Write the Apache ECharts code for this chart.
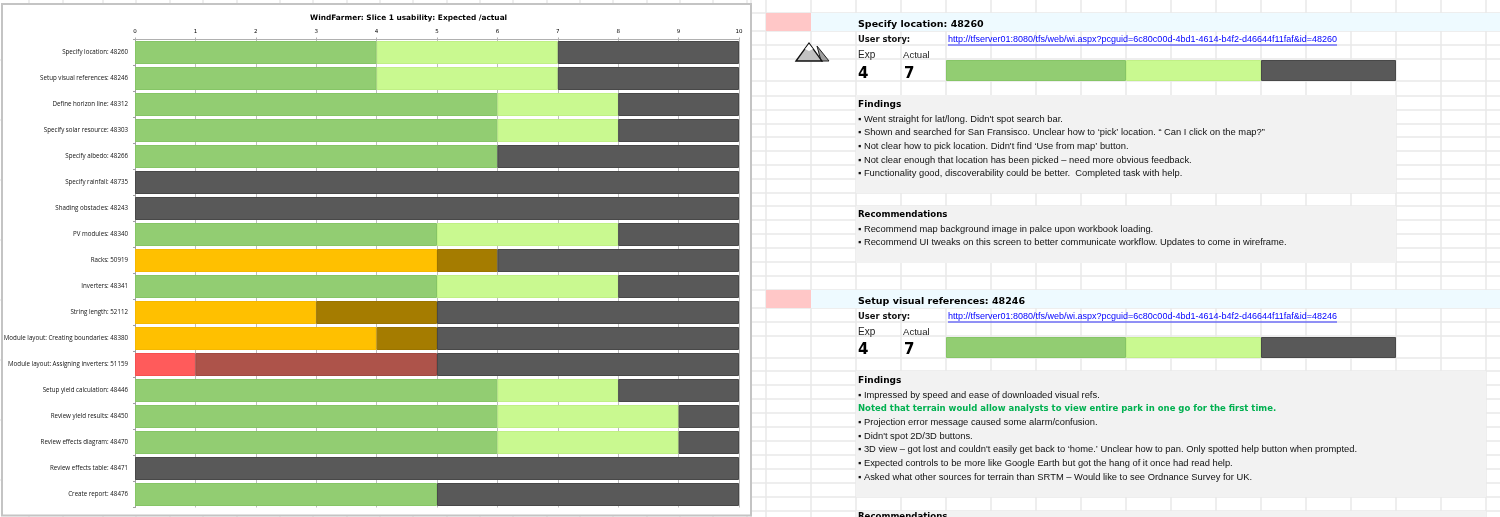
<!DOCTYPE html>
<html><head><meta charset="utf-8">
<style>html,body{margin:0;padding:0;background:#fff}#c{width:1500px;height:517px}</style>
<script src="https://cdn.jsdelivr.net/npm/echarts@6/dist/echarts.min.js"></script></head>
<body><div id="c"></div>
<script>
const categories=["Specify location: 48260","Setup visual references: 48246","Define horizon line: 48312","Specify solar resource: 48303","Specify albedo: 48266","Specify rainfall: 48735","Shading obstacles: 48243","PV modules: 48340","Racks: 50919","Inverters: 48341","String length: 52112","Module layout: Creating boundaries: 48380","Module layout: Assigning inverters: 51159","Setup yield calculation: 48446","Review yield results: 48450","Review effects diagram: 48470","Review effects table: 48471","Create report: 48476"];
const expected=[4,4,6,6,6,0,0,5,5,5,3,4,1,6,6,6,0,5];
const actual=[7,7,8,8,6,0,0,8,6,8,5,5,5,8,9,9,0,5];
const status=["g","g","g","g","g","n","n","g","o","g","o","o","r","g","g","g","n","g"];
const xTicks=[0,1,2,3,4,5,6,7,8,9,10];
const title="WindFarmer: Slice 1 usability: Expected /actual";
const findingsA=["▪ Went straight for lat/long. Didn't spot search bar.","▪ Shown and searched for San Fransisco. Unclear how to ‘pick’ location. “ Can I click on the map?”","▪ Not clear how to pick location. Didn't find ‘Use from map’ button.","▪ Not clear enough that location has been picked – need more obvious feedback.","▪ Functionality good, discoverability could be better.  Completed task with help."];
const recsA=["▪ Recommend map background image in palce upon workbook loading.","▪ Recommend UI tweaks on this screen to better communicate workflow. Updates to come in wireframe."];
const findingsB=["▪ Impressed by speed and ease of downloaded visual refs.","Noted that terrain would allow analysts to view entire park in one go for the first time.","▪ Projection error message caused some alarm/confusion.","▪ Didn't spot 2D/3D buttons.","▪ 3D view – got lost and couldn't easily get back to ‘home.’ Unclear how to pan. Only spotted help button when prompted.","▪ Expected controls to be more like Google Earth but got the hang of it once had read help.","▪ Asked what other sources for terrain than SRTM – Would like to see Ordnance Survey for UK."];
const linkBase="http://tfserver01:8080/tfs/web/wi.aspx?pcguid=6c80c00d-4bd1-4614-b4f2-d46644f11faf&id=";
const palette={g:["#92CD72","#C9F990"],o:["#FFC000","#A57C00"],r:["#FF5B5B","#AD534A"],n:["#595959","#595959"]};
const edge={g:["#86C566","#C0F085"],o:["#F5B800","#9A7400"],r:["#F55050","#A04A42"],n:["#404040","#404040"]};
const dark="#595959",darkEdge="#484848";

const cols=[766,811,856,901,946,991,1036,1081,1126,1171,1216,1261,1306,1351,1396,1441,1486];
const rows=[13,31,45,59,81,96,110,124,137,151,165,179,193,206,220,234,248,262,276,290,308,322,336,358,371,385,399,413,427,441,455,469,483,497,511];
const stripX=[29,63,103,136,170,203,237,280,313,347,380,413,447,480,513,547,580,613,647,680,713,747];
const G=[];
const rect=(x,y,w,h,fill,z=-5)=>G.push({type:'rect',z,silent:true,shape:{x,y,width:w,height:h},style:{fill}});
const line=(a,b,c,d,col='#E8E8E8',w=1.5,z=-6)=>G.push({type:'line',z,silent:true,shape:{x1:a,y1:b,x2:c,y2:d},style:{stroke:col,lineWidth:w}});
const txt=(x,y,t,font,fill='#111')=>G.push({type:'text',z:20,silent:true,x,y,style:{text:t,font,fill,textVerticalAlign:'middle',textBaseline:'middle'}});
cols.forEach(x=>line(x,0,x,517));
line(751,0,751,517);
rows.forEach(y=>line(751,y,1500,y));
stripX.forEach(x=>{line(x,0,x,4);line(x,516,x,517);});
[60,120,180,240,300,360,420,480].forEach(y=>line(0,y,2,y));
rect(766,13,45,18,'#FFC7C7');rect(811,13,689,18,'#EEFAFF');
rect(856,95,540,98,'#F2F2F2');rect(856,206,540,57,'#F2F2F2');
rect(766,290,45,18,'#FFC7C7');rect(811,290,689,18,'#EEFAFF');
rect(856,371,630,126,'#F2F2F2');rect(856,511,630,6,'#F2F2F2');
G.push({type:'rect',z:-4,silent:true,shape:{x:2,y:4,width:749,height:511.5},style:{fill:'#fff',stroke:'#C4C4C4',lineWidth:2}});

const F='"Liberation Sans"';
const H='"DejaVu Sans"';
function section(y0,name,id,findings,recs,ys){
  txt(858,y0+12,name,`bold 9.5px ${H}`,'#000');
  txt(858,y0+27,"User story:",`bold 8.4px ${H}`,'#111');
  txt(948,y0+27,linkBase+id,`9px ${F}`,'#0000FF');
  line(948,y0+32,1337,y0+32,'#0000FF',0.8,20);
  txt(858,y0+42,"Exp",`10px ${F}`,'#222');
  txt(903,y0+42,"Actual",`9.6px ${F}`,'#222');
  txt(858,y0+ys.num,String(expected[ys.i]),`bold 15px ${H}`,'#000');
  txt(904,y0+ys.num,String(actual[ys.i]),`bold 15px ${H}`,'#000');
  txt(858,y0+ys.f,"Findings",`bold 9px ${H}`,'#000');
  findings.forEach((t,i)=>{
    const green=t.startsWith("Noted");
    txt(858,y0+ys.f+14+i*13.7,t,green?`bold 8.5px ${H}`:`9.35px ${F}`,green?'#00B050':'#111');
  });
  txt(858,y0+ys.r,"Recommendations",`bold 8.6px ${H}`,'#000');
  recs.forEach((t,i)=>txt(858,y0+ys.r+14+i*13.7,t,`9.35px ${F}`,'#111'));
}
section(13,categories[0],"48260",findingsA,recsA,{i:0,num:61,f:92,r:202});
section(290,categories[1],"48246",findingsB,[],{i:1,num:60,f:91,r:227});
// mountain icon
G.push({type:'polygon',z:10,silent:true,shape:{points:[[817,46],[829,61],[821,61]]},style:{fill:'#9E9E9E',stroke:'#222',lineWidth:1}});
G.push({type:'polygon',z:11,silent:true,shape:{points:[[796,61],[809,43],[822,61]]},style:{fill:'#C2C2C2',stroke:'#111',lineWidth:1.3}});
G.push({type:'polygon',z:12,silent:true,shape:{points:[[805,49],[809,44],[813,49],[809,51]]},style:{fill:'#fff'}});

function seriesFor(idx,gridIndex,width){
  const val=[],ext=[],rest=[];
  idx.forEach(i=>{
    const s=status[i];
    const st=(fill,stroke,v)=>({value:v,itemStyle:{color:fill,borderColor:stroke,borderWidth:v>0?1:0}});
    val.push(st(palette[s][0],edge[s][0],expected[i]));
    ext.push(st(palette[s][1],edge[s][1],actual[i]-expected[i]));
    rest.push(st(dark,darkEdge,10-actual[i]));
  });
  return [["Expected",val],["Actual",ext],["Remaining",rest]].map(([n,d])=>({
    name:n,type:'bar',stack:'s'+gridIndex,xAxisIndex:gridIndex,yAxisIndex:gridIndex,barWidth:width,data:d,silent:true,animation:false}));
}
const miniAxes=(g,cat)=>({
  x:{type:'value',gridIndex:g,min:0,max:10,show:false},
  y:{type:'category',gridIndex:g,data:cat,show:false}
});
const m1=miniAxes(1,[categories[0]]),m2=miniAxes(2,[categories[1]]);
const option={
  animation:false,backgroundColor:'#fff',
  title:{text:title,left:305,top:10,textStyle:{fontFamily:'DejaVu Sans',fontWeight:'bold',fontSize:7.4,color:'#000'}},
  grid:[{left:135,top:39.5,width:604,height:468},{left:946,top:60,width:450,height:21},{left:946,top:337,width:450,height:21}],
  xAxis:[{type:'value',gridIndex:0,position:'top',min:xTicks[0],max:xTicks[xTicks.length-1],interval:1,
    axisLine:{show:true,lineStyle:{color:'#B0B0B0',width:1}},axisTick:{show:true,length:2,lineStyle:{color:'#B0B0B0'}},
    splitLine:{show:true,lineStyle:{color:'#BDBDBD',width:1}},
    axisLabel:{fontFamily:'DejaVu Sans',fontSize:5.5,color:'#000',margin:5}},m1.x,m2.x],
  yAxis:[{type:'category',gridIndex:0,inverse:true,data:categories,
    axisLine:{show:true,lineStyle:{color:'#A0A0A0',width:1}},axisTick:{show:true,length:2,lineStyle:{color:'#A0A0A0'}},
    axisLabel:{fontFamily:'Open Sans',fontSize:6.2,color:'#111',margin:7,interval:0}},m1.y,m2.y],
  graphic:{elements:G},
  series:[...seriesFor(categories.map((_,i)=>i),0,23),...seriesFor([0],1,21),...seriesFor([1],2,21)]
};
echarts.init(document.getElementById('c'),null,{renderer:'canvas'}).setOption(option);
</script></body></html>
